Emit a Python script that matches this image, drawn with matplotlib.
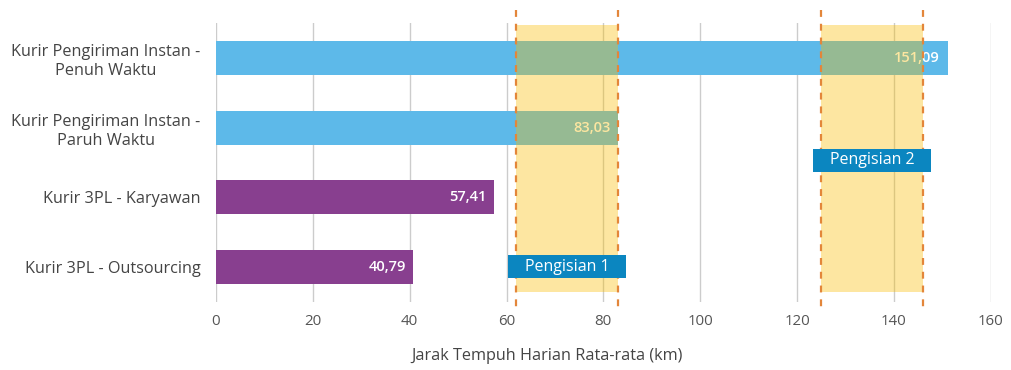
import matplotlib
matplotlib.use("Agg")
import matplotlib.pyplot as plt
from matplotlib.patches import Rectangle

# Data
categories = [
    "Kurir Pengiriman Instan -\nPenuh Waktu",
    "Kurir Pengiriman Instan -\nParuh Waktu",
    "Kurir 3PL - Karyawan",
    "Kurir 3PL - Outsourcing",
]
values = [151.09, 83.03, 57.41, 40.79]
value_labels = ["151,09", "83,03", "57,41", "40,79"]
bar_colors = ["#5DB9E9", "#5DB9E9", "#883F8F", "#883F8F"]

charge_names = ["Pengisian 1", "Pengisian 2"]
charge_start = [62, 125]
charge_end = [83, 146]
charge_label_row = [3.0, 1.47]

x_ticks = [0, 20, 40, 60, 80, 100, 120, 140, 160]
x_label = "Jarak Tempuh Harian Rata-rata (km)"

plt.rcParams["font.family"] = ["Open Sans", "DejaVu Sans"]

fig = plt.figure(figsize=(10.12, 3.70), dpi=100)
ax = fig.add_axes([0.2134, 0.1846, 0.979 - 0.2134, 0.937 - 0.1846])

ypos = list(range(len(categories)))
ax.set_ylim(3.5, -0.5)
ax.set_xlim(0, 160)

# vertical grid
for t in x_ticks:
    ax.axvline(t, color="#CCCCCC", lw=1.0, zorder=0)

ax.barh(ypos, values, height=0.49, color=bar_colors, zorder=2)
for y, v, lab in zip(ypos, values, value_labels):
    ax.text(v - 1.6, y, lab, ha="right", va="center", color="white",
            fontsize=10.5, fontweight="semibold", zorder=3)

# charging windows
for name, s, e, row in zip(charge_names, charge_start, charge_end, charge_label_row):
    ax.add_patch(Rectangle((s, -0.475), e - s, 3.36 + 0.475,
                           facecolor="#FABD00", alpha=0.37, lw=0, zorder=4))
    for xv in (s, e):
        ax.plot([xv, xv], [-0.69, 3.62], color="#E3863A", lw=1.6,
                ls=(0, (3.1, 3.1)), clip_on=False, zorder=5)
    ax.add_patch(Rectangle((s - 1.7, row - 0.165), e - s + 3.4, 0.33,
                           facecolor="#0B86C0", lw=0, zorder=6))
    ax.text((s + e) / 2, row, name, ha="center", va="center", color="white",
            fontsize=11.5, zorder=7)

ax.set_yticks(ypos)
ax.set_yticklabels(categories, fontsize=11.7, color="#444444",
                   multialignment="center", linespacing=1.25)
ax.set_xticks(x_ticks)
ax.set_xticklabels([str(t) for t in x_ticks], fontsize=10.8, color="#555555")
ax.tick_params(axis="both", length=0)
ax.tick_params(axis="y", pad=11)
ax.tick_params(axis="x", pad=9)
ax.set_xlabel(x_label, fontsize=11.7, color="#444444")
ax.xaxis.set_label_coords(0.427, -0.165)

for sp in ax.spines.values():
    sp.set_visible(False)

fig.savefig("out.png", dpi=100, facecolor="white")
